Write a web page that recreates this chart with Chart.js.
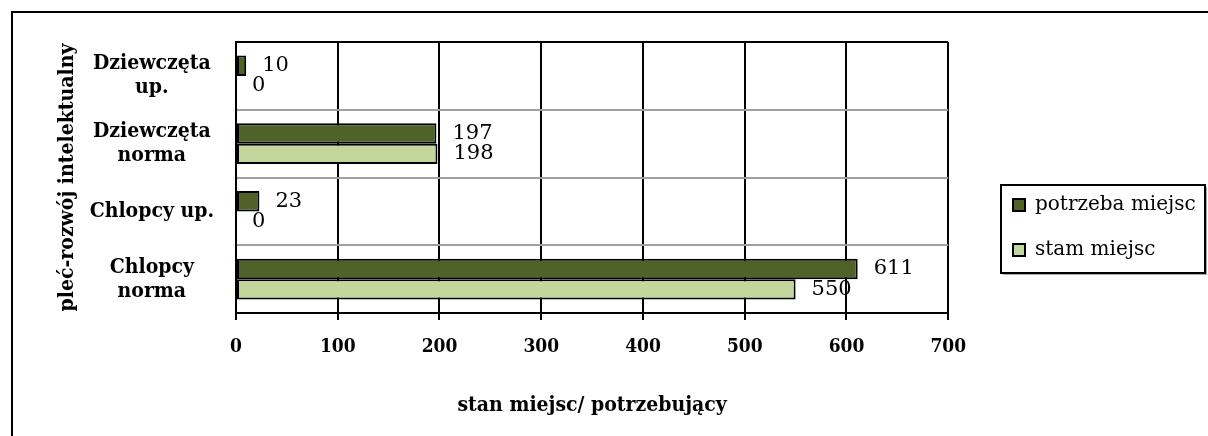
<!DOCTYPE html>
<html>
<head>
<meta charset="utf-8">
<script src="https://cdn.jsdelivr.net/npm/chart.js@4.4.0/dist/chart.umd.min.js"></script>
<style>
  html, body { margin: 0; padding: 0; background: #fff; overflow: hidden; }
  #wrap { position: relative; width: 1208px; height: 436px; }
  #frame { position: absolute; left: 11px; top: 11px; width: 1300px; height: 600px;
           border: 2px solid #000; box-shadow: 1px 1px 0 #999; }
  canvas { position: absolute; left: 0; top: 0; }
</style>
</head>
<body>
<div id="wrap">
  <div id="frame"></div>
  <canvas id="c" width="1208" height="436"></canvas>
</div>
<script>
const categories = [['Dziewczęta', 'up.'], ['Dziewczęta', 'norma'], ['Chlopcy up.'], ['Chlopcy', 'norma']];
const seriesNames = ['potrzeba miejsc', 'stam miejsc'];
const potrzebaMiejsc = [10, 197, 23, 611];
const stamMiejsc = [0, 198, 0, 550];
const xTicks = [0, 100, 200, 300, 400, 500, 600, 700];
const xTitle = 'stan miejsc/ potrzebujący';
const yTitle = 'pleć-rozwój intelektualny';

const SERIF = "'DejaVu Serif', 'Liberation Serif', serif";
const COND = "'DejaVu Serif Condensed', 'Liberation Serif', serif";

const valueLabels = {
  id: 'valueLabels',
  afterDatasetsDraw(chart) {
    const ctx = chart.ctx;
    ctx.save();
    ctx.font = '21px ' + SERIF;
    ctx.fillStyle = '#000';
    ctx.textAlign = 'left';
    ctx.textBaseline = 'middle';
    chart.data.datasets.forEach((ds, di) => {
      const meta = chart.getDatasetMeta(di);
      meta.data.forEach((el, i) => {
        ctx.fillText(String(ds.data[i]), el.x + 16, el.y);
      });
    });
    ctx.restore();
  }
};

const legendBox = {
  id: 'legendBox',
  afterLayout(chart) {
    const L = chart.legend;
    const w = L.width, h = L.height;
    L.left = 988; L.right = L.left + w;
    L.top = 170; L.bottom = L.top + h;
  },
  afterDraw(chart) {
    const ctx = chart.ctx;
    ctx.save();
    ctx.fillStyle = '#aaa';
    ctx.fillRect(1003, 273, 204, 2);
    ctx.fillRect(1205, 187, 2, 88);
    ctx.strokeStyle = '#000';
    ctx.lineWidth = 2;
    ctx.strokeRect(1001, 185, 204, 88);
    ctx.restore();
  }
};

new Chart(document.getElementById('c'), {
  type: 'bar',
  data: {
    labels: categories,
    datasets: [
      { label: seriesNames[0], data: potrzebaMiejsc, backgroundColor: '#4F6228', borderColor: '#000', borderWidth: 2, borderSkipped: false },
      { label: seriesNames[1], data: stamMiejsc, backgroundColor: '#C3D69B', borderColor: '#000', borderWidth: 2, borderSkipped: false }
    ]
  },
  options: {
    indexAxis: 'y',
    responsive: false,
    animation: false,
    devicePixelRatio: 1,
    categoryPercentage: 0.6,
    barPercentage: 1.0,
    layout: { padding: { left: 0, top: 42, right: 42, bottom: 0 } },
    scales: {
      x: {
        type: 'linear',
        min: 0, max: 700,
        afterBuildTicks(scale) { scale.ticks = xTicks.map(v => ({ value: v })); },
        afterFit(scale) { scale.height = 123; },
        ticks: { color: '#000', font: { family: COND, size: 19, weight: 'bold' }, padding: 16, maxRotation: 0 },
        grid: { color: '#000', lineWidth: 2, tickLength: 7, drawTicks: true },
        border: { display: true, color: '#000', width: 2 },
        title: { display: true, text: xTitle, color: '#000', font: { family: COND, size: 21, weight: 'bold' }, padding: { top: 0, bottom: 18 } }
      },
      y: {
        type: 'category',
        offset: true,
        afterFit(scale) { scale.width = 236; scale.paddingTop = 0; scale.paddingBottom = 0; },
        ticks: { color: '#000', font: { family: COND, size: 21, weight: 'bold', lineHeight: 1.15 }, padding: 22, crossAlign: 'center' },
        grid: { offset: true, drawTicks: false, lineWidth: 2,
                color: (c) => (c.index === 0 ? '#000' : '#a0a0a0') },
        border: { display: true, color: '#000', width: 2 },
        title: { display: true, text: yTitle, color: '#000', font: { family: COND, size: 21, weight: 'bold' }, padding: { top: 55, bottom: 0 } }
      }
    },
    plugins: {
      legend: {
        position: 'right',
        align: 'start',
        maxWidth: 230,
        labels: { boxWidth: 12, boxHeight: 12, padding: 25, color: '#000', font: { family: SERIF, size: 20 } }
      },
      tooltip: { enabled: false }
    }
  },
  plugins: [valueLabels, legendBox]
});
</script>
</body>
</html>
